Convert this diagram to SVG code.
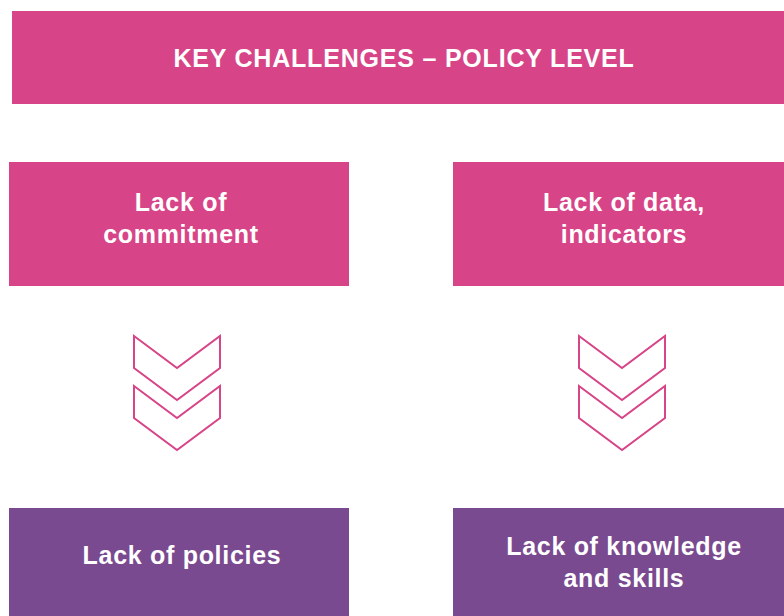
<svg xmlns="http://www.w3.org/2000/svg" width="784" height="616" viewBox="0 0 784 616">
<style>
.pink{fill:#d74487}
.purple{fill:#7a4a90}
.t{font-family:"Liberation Sans",Arial,sans-serif;font-weight:bold;fill:#ffffff;text-anchor:middle}
.lbl{font-size:25px;letter-spacing:0.7px}
.title{font-size:25px;letter-spacing:0.8px}
.chev{fill:none;stroke:#d74487;stroke-width:2;stroke-linejoin:miter}
</style>
<rect width="784" height="616" fill="#ffffff"/>
<g id="header">
<rect class="pink" x="12" y="11" width="772" height="93"/>
<text class="t title" x="404" y="67">KEY CHALLENGES – POLICY LEVEL</text>
</g>
<g id="commitment">
<rect class="pink" x="9" y="162" width="340" height="124"/>
<text class="t lbl" x="181" y="211">Lack of</text>
<text class="t lbl" x="181" y="243">commitment</text>
</g>
<g id="data">
<rect class="pink" x="453" y="162" width="331" height="124"/>
<text class="t lbl" x="624" y="211">Lack of data,</text>
<text class="t lbl" x="624" y="243">indicators</text>
</g>
<g id="policies">
<rect class="purple" x="9" y="508" width="340" height="108"/>
<text class="t lbl" x="182" y="564">Lack of policies</text>
</g>
<g id="knowledge">
<rect class="purple" x="453" y="508" width="331" height="108"/>
<text class="t lbl" x="624" y="555">Lack of knowledge</text>
<text class="t lbl" x="624" y="587">and skills</text>
</g>
<g id="connectors">
<polygon class="chev" points="134,336 177,368 220,336 220,368 177,400 134,368"/>
<polygon class="chev" points="134,386 177,418 220,386 220,418 177,450 134,418"/>
<polygon class="chev" points="579,336 622,368 665,336 665,368 622,400 579,368"/>
<polygon class="chev" points="579,386 622,418 665,386 665,418 622,450 579,418"/>
</g>
</svg>
